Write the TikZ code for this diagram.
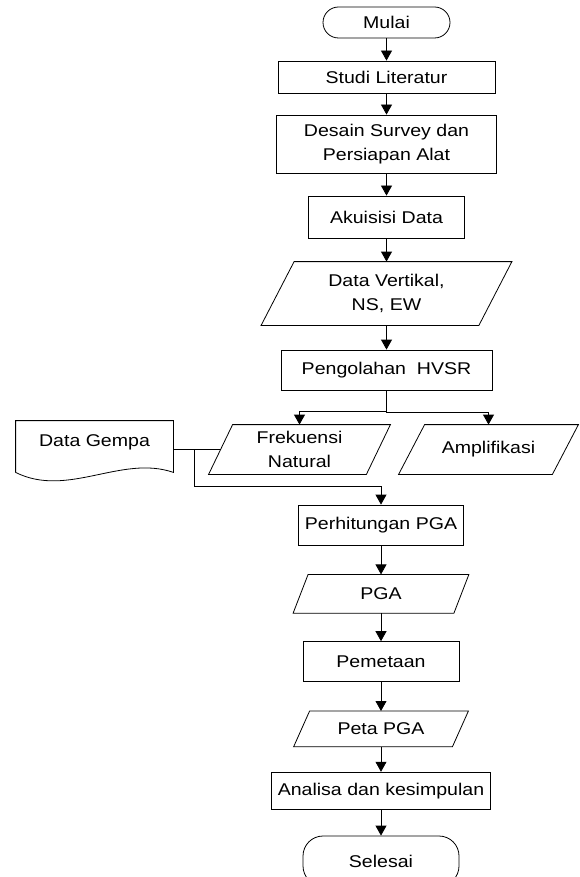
\documentclass[tikz,border=0pt]{standalone}
\usepackage{fontspec}
\setmainfont{Liberation Sans}[FakeStretch=1.15]
\usetikzlibrary{positioning}
\usetikzlibrary{arrows.meta}

\tikzset{
  base/.style={font=\fontsize{17}{23.5}\selectfont, align=center, line width=0.8pt, inner sep=0pt},
  proc/.style={base, draw, rectangle},
  term/.style={base, draw, rectangle, rounded corners=#1},
  io/.style={base, rectangle},
  arr/.style={-{Triangle[width=11pt,length=10pt]}, line width=0.8pt},
}
% jajaran genjang di sekitar node io
\newcommand{\iodraw}[2]{\draw[line width=0.8pt] ([xshift=#2]#1.north west) -- (#1.north east) -- ([xshift=-#2]#1.south east) -- (#1.south west) -- cycle;}

\begin{document}
\begin{tikzpicture}[x=1pt,y=-1pt]
    \useasboundingbox (0,0) rectangle (579,877);
    %% alur atas
    \node[term=15.5pt, minimum width=127pt, minimum height=31pt] (mulai) at (386.5,22.5) {Mulai};
    \node[proc, minimum width=217pt, minimum height=32pt] (studi) at (386.5,77) {Studi Literatur};
    \node[proc, minimum width=220pt, minimum height=58pt] (desain) at (386.5,144) {Desain Survey dan\\Persiapan Alat};
    \node[proc, minimum width=156pt, minimum height=42pt] (akuisisi) at (386.5,217) {Akuisisi Data};
    \node[io, minimum width=250pt, minimum height=63pt] (datav) at (386.5,293.5) {Data Vertikal,\\NS, EW};
    \node[proc, minimum width=211pt, minimum height=40pt] (olah) at (386.5,370) {Pengolahan\ \ HVSR};
    %% cabang
    \node[io, minimum width=181pt, minimum height=49pt] (frek) at (299.5,449.5) {Frekuensi\\Natural};
    \node[io, minimum width=179pt, minimum height=49pt] (ampl) at (488.5,449.5) {Amplifikasi};
    \node[base, minimum width=157pt, minimum height=42pt] (gempa) at (94.5,442) {Data Gempa};
    %% alur bawah
    \node[proc, minimum width=165pt, minimum height=40pt] (hitung) at (381,525) {Perhitungan PGA};
    \node[io, minimum width=175pt, minimum height=38pt, below=29pt of hitung] (pga) {PGA};
    \node[proc, minimum width=156pt, minimum height=40pt, below=28pt of pga] (petaan) {Pemetaan};
    \node[io, minimum width=174pt, minimum height=35pt, below=29pt of petaan] (peta) {Peta PGA};
    \node[proc, minimum width=219pt, minimum height=37pt, below=25pt of peta] (analisa) {Analisa dan kesimpulan};
    \node[term=20pt, minimum width=156pt, minimum height=50pt, below=26pt of analisa] (selesai) {Selesai};

    % bentuk data
    \iodraw{datav}{33pt}
    \iodraw{frek}{24pt}
    \iodraw{ampl}{26pt}
    \iodraw{pga}{15pt}
    \iodraw{peta}{16pt}
    \draw[line width=0.8pt] ([yshift=-9pt]gempa.south west) -- (gempa.north west) -- (gempa.north east)
        -- ([yshift=-9pt]gempa.south east) .. controls +(-52,-18) and +(52,26) .. ([yshift=-9pt]gempa.south west);

    % panah
    \draw[arr] (mulai) -- (studi);
    \draw[arr] (studi) -- (desain);
    \draw[arr] (desain) -- (akuisisi);
    \draw[arr] (akuisisi) -- (datav);
    \draw[arr] (datav) -- (olah);
    \draw[arr] (olah.south) -- ++(0,21) -| (frek.north);
    \draw[arr] (olah.south) -- ++(0,22) -| (ampl.north);
    \draw[line width=0.8pt] (gempa.east |- frek.west) -- ([xshift=12pt]frek.west);
    \coordinate (j) at ([xshift=21pt]gempa.east |- frek.west);
    \draw[arr] (j) -- ++(0,36.5) -| (hitung.north);
    \draw[arr] (hitung) -- (pga);
    \draw[arr] (pga) -- (petaan);
    \draw[arr] (petaan) -- (peta);
    \draw[arr] (peta) -- (analisa);
    \draw[arr] (analisa) -- (selesai);
\end{tikzpicture}
\end{document}
